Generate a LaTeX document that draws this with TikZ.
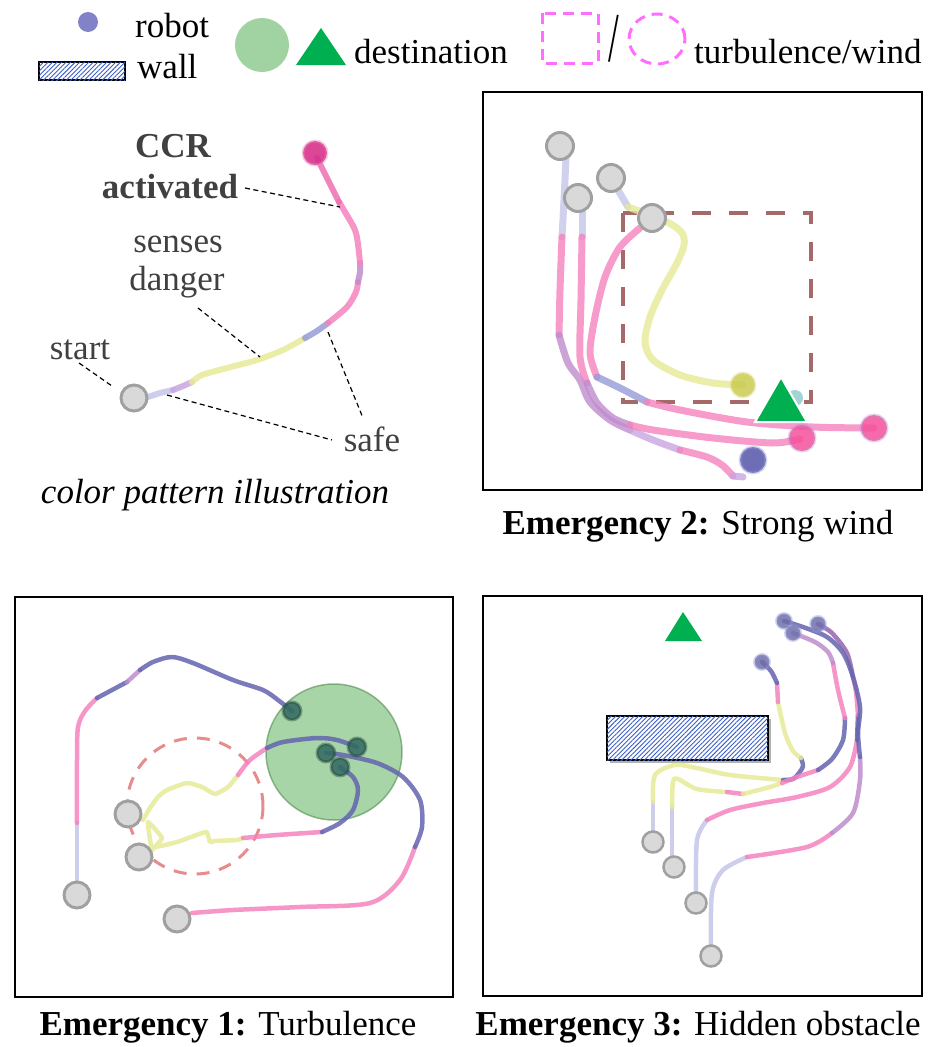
\documentclass[tikz,border=0pt]{standalone}
\usepackage{fontspec}
\usepackage{graphicx}
\setmainfont{Liberation Serif}
\usetikzlibrary{patterns.meta}
\definecolor{tgray}{RGB}{217,217,217}
\definecolor{tgrayd}{RGB}{160,160,160}
\definecolor{tpink}{RGB}{245,130,190}
\definecolor{tlav}{RGB}{195,198,232}
\definecolor{tblue}{RGB}{150,155,215}
\definecolor{tdblue}{RGB}{100,100,175}
\definecolor{tyel}{RGB}{230,234,150}
\definecolor{tpurp}{RGB}{190,140,205}
\definecolor{tlilac}{RGB}{200,165,225}
\definecolor{tdpurp}{RGB}{150,100,175}
\definecolor{wallhatch}{RGB}{60,95,200}
\definecolor{destgreen}{RGB}{0,176,80}
\definecolor{zonegreen}{RGB}{130,195,130}
\definecolor{zoneedge}{RGB}{80,140,80}
\definecolor{windmag}{RGB}{255,110,255}
\definecolor{windbrown}{RGB}{165,105,105}
\definecolor{turbred}{RGB}{230,140,140}
\definecolor{labgray}{RGB}{64,64,64}
\definecolor{robotblue}{RGB}{130,130,200}
\definecolor{ccrmag}{RGB}{215,50,140}
\definecolor{endpink}{RGB}{245,80,155}
\definecolor{endyel}{RGB}{200,200,70}
\definecolor{endblue}{RGB}{85,85,170}
\definecolor{endgreen}{RGB}{50,105,95}
\definecolor{endgreend}{RGB}{30,65,55}
\definecolor{teal}{RGB}{140,200,200}
\tikzset{
  lbl/.style={font=\fontsize{35}{41}\selectfont, inner sep=0pt},
  leader/.style={draw=black, line width=1.2pt, dash pattern=on 5pt off 3.5pt},
  trA/.style={line width=6pt, line cap=round, line join=round, opacity=0.85},
  trB/.style={line width=7pt, line cap=round, line join=round, opacity=0.8},
  trC/.style={line width=4.5pt, line cap=round, line join=round, opacity=0.85},
  startbot/.style={circle, inner sep=0pt, fill=tgray, draw=tgrayd, line width=3pt, minimum size=#1},
  endbot/.style={circle, inner sep=0pt, minimum size=#1, line width=3pt, draw opacity=0.4},
  frame/.style={draw=black, line width=2.2pt},
  wallbox/.style={draw=black, line width=2.5pt, fill=white, postaction={pattern={Lines[angle=45,distance=3.2pt,line width=0.9pt]}, pattern color=wallhatch}},
}
\begin{document}
\begin{tikzpicture}[x=1pt,y=-1pt]
\useasboundingbox (0,0) rectangle (939,1047);

% ---------------- Legend ----------------
\node[circle, inner sep=0pt, minimum size=20pt, fill=robotblue] (lgrobot) at (88,22) {};
\node[lbl, anchor=base west] (lgrobottxt) at (135,37) {robot};
\node[wallbox, minimum width=86pt, minimum height=18pt, line width=2pt] (lgwall) at (82,71) {};
\node[lbl, anchor=base west] (lgwalltxt) at (137,78) {wall};
\node[circle, inner sep=0pt, minimum size=54pt, fill=zonegreen, fill opacity=0.75] (lgzone) at (262,45) {};
\fill[destgreen] (321,28) -- (296,65) -- (346,65) -- cycle;
\node[lbl, anchor=base west] (lgdest) at (354,63) {destination};
\draw[windmag, line width=3pt, dash pattern=on 11pt off 7pt] (542,13) rectangle (598,63);
\node[lbl, anchor=base] (lgslash) at (614,61) {\fontsize{70}{70}\selectfont\scalebox{0.55}[1]{/}};
\draw[windmag, line width=3pt, dash pattern=on 11pt off 7pt] (657,39) ellipse[x radius=28pt, y radius=25pt];
\node[lbl, anchor=base west] (lgwind) at (694,63) {turbulence/wind};

% ---------------- Illustration ----------------
\draw[trA, tlav] plot[smooth] coordinates {(148,397) (160,393) (173,390)};
\draw[trA, tlilac] plot[smooth] coordinates {(173,390) (183,386) (192,382)};
\draw[trA, tyel] plot[smooth] coordinates {(192,382) (202,375) (227,368) (257,360) (283,350) (305,338)};
\draw[trA, tblue] plot[smooth] coordinates {(305,338) (317,331) (328,323)};
\draw[trA, tpink] plot[smooth] coordinates {(328,323) (347,307) (356,292) (358,282)};
\draw[trA, tpurp] plot[smooth] coordinates {(358,282) (360,272) (360,263)};
\draw[trA, tpink] plot[smooth] coordinates {(360,263) (356,233) (345,212) (339,202)};
\draw[trA, tpink!75!ccrmag] plot[smooth] coordinates {(339,202) (328,180) (317,158)};
\node[endbot=24pt, fill=ccrmag, draw=ccrmag!60, fill opacity=0.9] (illend) at (315,153) {};
\node[startbot=26pt] (illstart) at (134,398) {};

\node[lbl, anchor=base, text=labgray] (ccr) at (173,157) {\bfseries CCR};
\node[lbl, anchor=base, text=labgray] (activ) at (170,198) {\bfseries activated};
\node[lbl, anchor=base, text=labgray] (senses) at (178,252) {senses};
\node[lbl, anchor=base, text=labgray] (danger) at (177,290) {danger};
\node[lbl, anchor=base, text=labgray] (start) at (80,359) {start};
\node[lbl, anchor=base, text=labgray] (safe) at (372,451) {safe};
\node[lbl, anchor=base] (illcap) at (215,503) {\itshape color pattern illustration};

\coordinate (ccrA) at (245,188);   \coordinate (ccrB) at (340,207);
\coordinate (dngA) at (198,308);   \coordinate (dngB) at (260,357);
\coordinate (stA) at (79,363);     \coordinate (stB) at (112,386);
\coordinate (sfA) at (167,395);    \coordinate (sfB) at (332,440);
\coordinate (sfC) at (328,332);    \coordinate (sfD) at (363,418);
\draw[leader] (ccrA) -- (ccrB);
\draw[leader] (dngA) -- (dngB);
\draw[leader] (stA) -- (stB);
\draw[leader] (sfA) -- (sfB);
\draw[leader] (sfC) -- (sfD);

% ---------------- Emergency 2 ----------------
\draw[frame] (483,92) rectangle (922,490);
\draw[windbrown, line width=4pt, dash pattern=on 19pt off 18pt] (623,213) rectangle (811,402);
% T1
\draw[trB, tlav] plot[smooth] coordinates {(566,158) (564,200) (562,237)};
\draw[trB, tpink] plot[smooth] coordinates {(562,237) (560,290) (559,335)};
\draw[trB, tpurp] plot[smooth] coordinates {(559,335) (568,363) (580,380) (590,402) (610,420) (630,430)};
\draw[trB, tlilac] plot[smooth] coordinates {(630,430) (653,440) (680,450)};
\draw[trB, tpink] plot[smooth] coordinates {(680,450) (707,457) (722,465) (733,476)};
\draw[trB, tlilac] plot[smooth] coordinates {(733,476) (743,477)};
% T2
\draw[trB, tlav] plot[smooth] coordinates {(582,212) (582,237)};
\draw[trB, tpink] plot[smooth] coordinates {(582,237) (581,300) (580,357) (587,383)};
\draw[trB, tpurp] plot[smooth] coordinates {(587,383) (597,403) (613,418) (630,425)};
\draw[trB, tpink] plot[smooth] coordinates {(630,425) (653,430) (713,438) (773,443) (800,439)};
% T3
\draw[trB, tpink] plot[smooth] coordinates {(640,228) (620,247) (605,277) (595,317) (590,353) (597,377)};
\draw[trB, tblue] plot[smooth] coordinates {(597,377) (620,388) (647,402)};
\draw[trB, tpink] plot[smooth] coordinates {(647,402) (680,410) (747,422) (813,427) (874,428)};
% T4
\draw[trB, tlav] plot[smooth] coordinates {(618,190) (628,207)};
\draw[trB, tyel] plot[smooth] coordinates {(628,207) (667,222) (682,233) (684,245) (677,263) (662,290) (650,317) (645,342) (653,360) (680,375) (713,383) (743,385)};

\node[startbot=27pt] (s21) at (560,146) {};
\node[startbot=27pt] (s22) at (578,198) {};
\node[startbot=27pt] (s23) at (611,178) {};
\node[startbot=27pt] (s24) at (652,218) {};
\node[endbot=24pt, fill=endyel, draw=endyel!70, fill opacity=0.8] (e2y) at (743,385) {};
\node[circle, inner sep=0pt, minimum size=16pt, fill=teal, fill opacity=0.8] (e2t) at (795,398) {};
\fill[destgreen, draw=white, line width=2pt] (781,377) -- (755,422) -- (807,422) -- cycle;
\node[endbot=26pt, fill=endpink, draw=tpurp, fill opacity=0.85] (e2p1) at (802,438) {};
\node[endbot=26pt, fill=endpink, draw=tpurp, fill opacity=0.85] (e2p2) at (874,428) {};
\node[endbot=26pt, fill=endblue, draw=tblue, fill opacity=0.85] (e2b) at (753,460) {};
\node[lbl, anchor=base] (cap2) at (698,534) {\bfseries Emergency 2:\mdseries{} Strong wind};

% ---------------- Emergency 1 ----------------
\draw[frame] (15,597) rectangle (453,997);
\node[circle, inner sep=0pt, minimum size=136pt, fill=zonegreen, fill opacity=0.7, draw=zoneedge, draw opacity=0.6, line width=1.5pt] (zone) at (334,752) {};
\draw[turbred, line width=3pt, dash pattern=on 13pt off 10pt] (195,806) circle[radius=68pt];
% Pa
\draw[trC, tlav] plot[smooth] coordinates {(77,882) (77,823)};
\draw[trC, tpink] plot[smooth] coordinates {(77,823) (77,760) (78,727) (85,711) (97,698)};
\draw[trC, tdblue] plot[smooth] coordinates {(97,698) (112,690) (127,682)};
\draw[trC, tpurp] plot[smooth] coordinates {(127,682) (140,670)};
\draw[trC, tdblue] plot[smooth] coordinates {(140,670) (153,662) (172,657) (193,663) (233,680) (263,690) (278,700) (292,711)};
% Pb
\draw[trC, tyel] plot[tension=0.3, smooth] coordinates {(143,820) (150,808) (158,797) (167,790) (187,783) (202,787) (215,794) (228,787) (238,775)};
\draw[trC, tpink] plot[smooth] coordinates {(238,775) (250,760) (267,748)};
\draw[trC, tdblue] plot[smooth] coordinates {(267,748) (283,742) (317,738) (337,740) (357,747)};
% Pd
\draw[trC, tyel] plot[tension=0.2, smooth] coordinates {(150,852) (162,838) (148,822) (152,847) (177,842) (202,833) (207,832) (210,842) (214,841) (237,840) (243,838)};
\draw[trC, tpink] plot[smooth] coordinates {(243,838) (277,835) (322,832)};
\draw[trC, tdblue] plot[smooth] coordinates {(322,832) (340,823) (353,810) (358,790) (353,777) (340,767)};
% Pc
\draw[trC, tpink] plot[smooth] coordinates {(192,913) (233,910) (300,907) (370,903) (400,880) (415,847)};
\draw[trC, tdblue] plot[smooth] coordinates {(415,847) (422,827) (420,800) (403,777) (377,763) (343,755) (326,753)};

\node[startbot=26pt] (s11) at (128,814) {};
\node[startbot=26pt] (s12) at (139,857) {};
\node[startbot=26pt] (s13) at (77,895) {};
\node[startbot=26pt] (s14) at (177,919) {};
\node[endbot=18pt, fill=endgreen, draw=endgreend, fill opacity=0.85] (e11) at (292,711) {};
\node[endbot=18pt, fill=endgreen, draw=endgreend, fill opacity=0.85] (e12) at (357,747) {};
\node[endbot=18pt, fill=endgreen, draw=endgreend, fill opacity=0.85] (e13) at (326,753) {};
\node[endbot=18pt, fill=endgreen, draw=endgreend, fill opacity=0.85] (e14) at (340,767) {};
\node[lbl, anchor=base] (cap1) at (228,1035) {\bfseries Emergency 1:\mdseries{} Turbulence};

% ---------------- Emergency 3 ----------------
\draw[frame] (483,596) rectangle (922,996);
\fill[destgreen] (683,612) -- (665,641) -- (702,641) -- cycle;
\fill[black!30] (610,719) rectangle (771,763);
\node[wallbox, minimum width=161pt, minimum height=44pt] (wall3) at (687.5,738) {};
% P1
\draw[trC, tlav] plot[smooth] coordinates {(653,832) (653,802)};
\draw[trC, tyel] plot[smooth] coordinates {(653,802) (655,775) (675,765) (697,768) (730,775) (783,780)};
\draw[trC, tdblue] plot[smooth] coordinates {(783,780) (793,779) (799,773) (803,766) (801,758)};
\draw[trC, tyel] plot[smooth] coordinates {(801,758) (793,751) (785,733) (778,702)};
\draw[trC, tpink] plot[smooth] coordinates {(778,702) (777,683)};
\draw[trC, tdblue] plot[smooth] coordinates {(777,683) (771,671) (762,662)};
% P2
\draw[trC, tlav] plot[smooth] coordinates {(672,855) (672,807)};
\draw[trC, tyel] plot[smooth] coordinates {(672,807) (673,782) (678,779) (697,789) (727,792)};
\draw[trC, tpink] plot[smooth] coordinates {(727,792) (743,794)};
\draw[trC, tyel] plot[smooth] coordinates {(743,794) (770,787) (782,783)};
\draw[trC, tpink] plot[smooth] coordinates {(782,783) (797,777) (818,770)};
\draw[trC, tdblue] plot[smooth] coordinates {(818,770) (832,759) (843,740) (845,718)};
\draw[trC, tpink] plot[smooth] coordinates {(845,718) (838,690) (833,663)};
\draw[trC, tpurp] plot[smooth] coordinates {(833,663) (828,652) (815,642) (793,633)};
% P3
\draw[trC, tlav] plot[smooth] coordinates {(696,892) (697,840) (707,820)};
\draw[trC, tpink] plot[smooth] coordinates {(707,820) (730,810) (763,803) (797,797) (830,787) (850,767) (857,740)};
\draw[trC, tdblue] plot[smooth] coordinates {(857,740) (858,715)};
\draw[trC, tpink] plot[smooth] coordinates {(858,715) (856,692) (853,677)};
\draw[trC, tdpurp] plot[smooth] coordinates {(853,677) (847,653) (832,633) (818,624)};
% P4
\draw[trC, tlav] plot[smooth] coordinates {(711,945) (712,893) (723,870) (747,857)};
\draw[trC, tpink] plot[smooth] coordinates {(747,857) (807,847) (832,833)};
\draw[trC, tpurp] plot[smooth] coordinates {(832,833) (853,813) (860,780) (860,757)};
\draw[trC, tdblue] plot[smooth] coordinates {(860,757) (858,733) (860,707) (853,677) (843,653) (827,637) (803,627) (784,621)};

\node[startbot=21pt, line width=2.5pt] (s31) at (653,842) {};
\node[startbot=21pt, line width=2.5pt] (s32) at (674,867) {};
\node[startbot=21pt, line width=2.5pt] (s33) at (696,903) {};
\node[startbot=21pt, line width=2.5pt] (s34) at (711,956) {};
\node[endbot=15pt, fill=robotblue!85!black, draw=tblue, fill opacity=0.85] (e31) at (784,621) {};
\node[endbot=15pt, fill=robotblue!85!black, draw=tblue, fill opacity=0.85] (e32) at (818,624) {};
\node[endbot=15pt, fill=robotblue!85!black, draw=tblue, fill opacity=0.85] (e33) at (793,633) {};
\node[endbot=15pt, fill=robotblue!85!black, draw=tblue, fill opacity=0.85] (e34) at (762,662) {};
\node[lbl, anchor=base] (cap3) at (698,1035) {\bfseries Emergency 3:\mdseries{} Hidden obstacle};
\end{tikzpicture}
\end{document}
